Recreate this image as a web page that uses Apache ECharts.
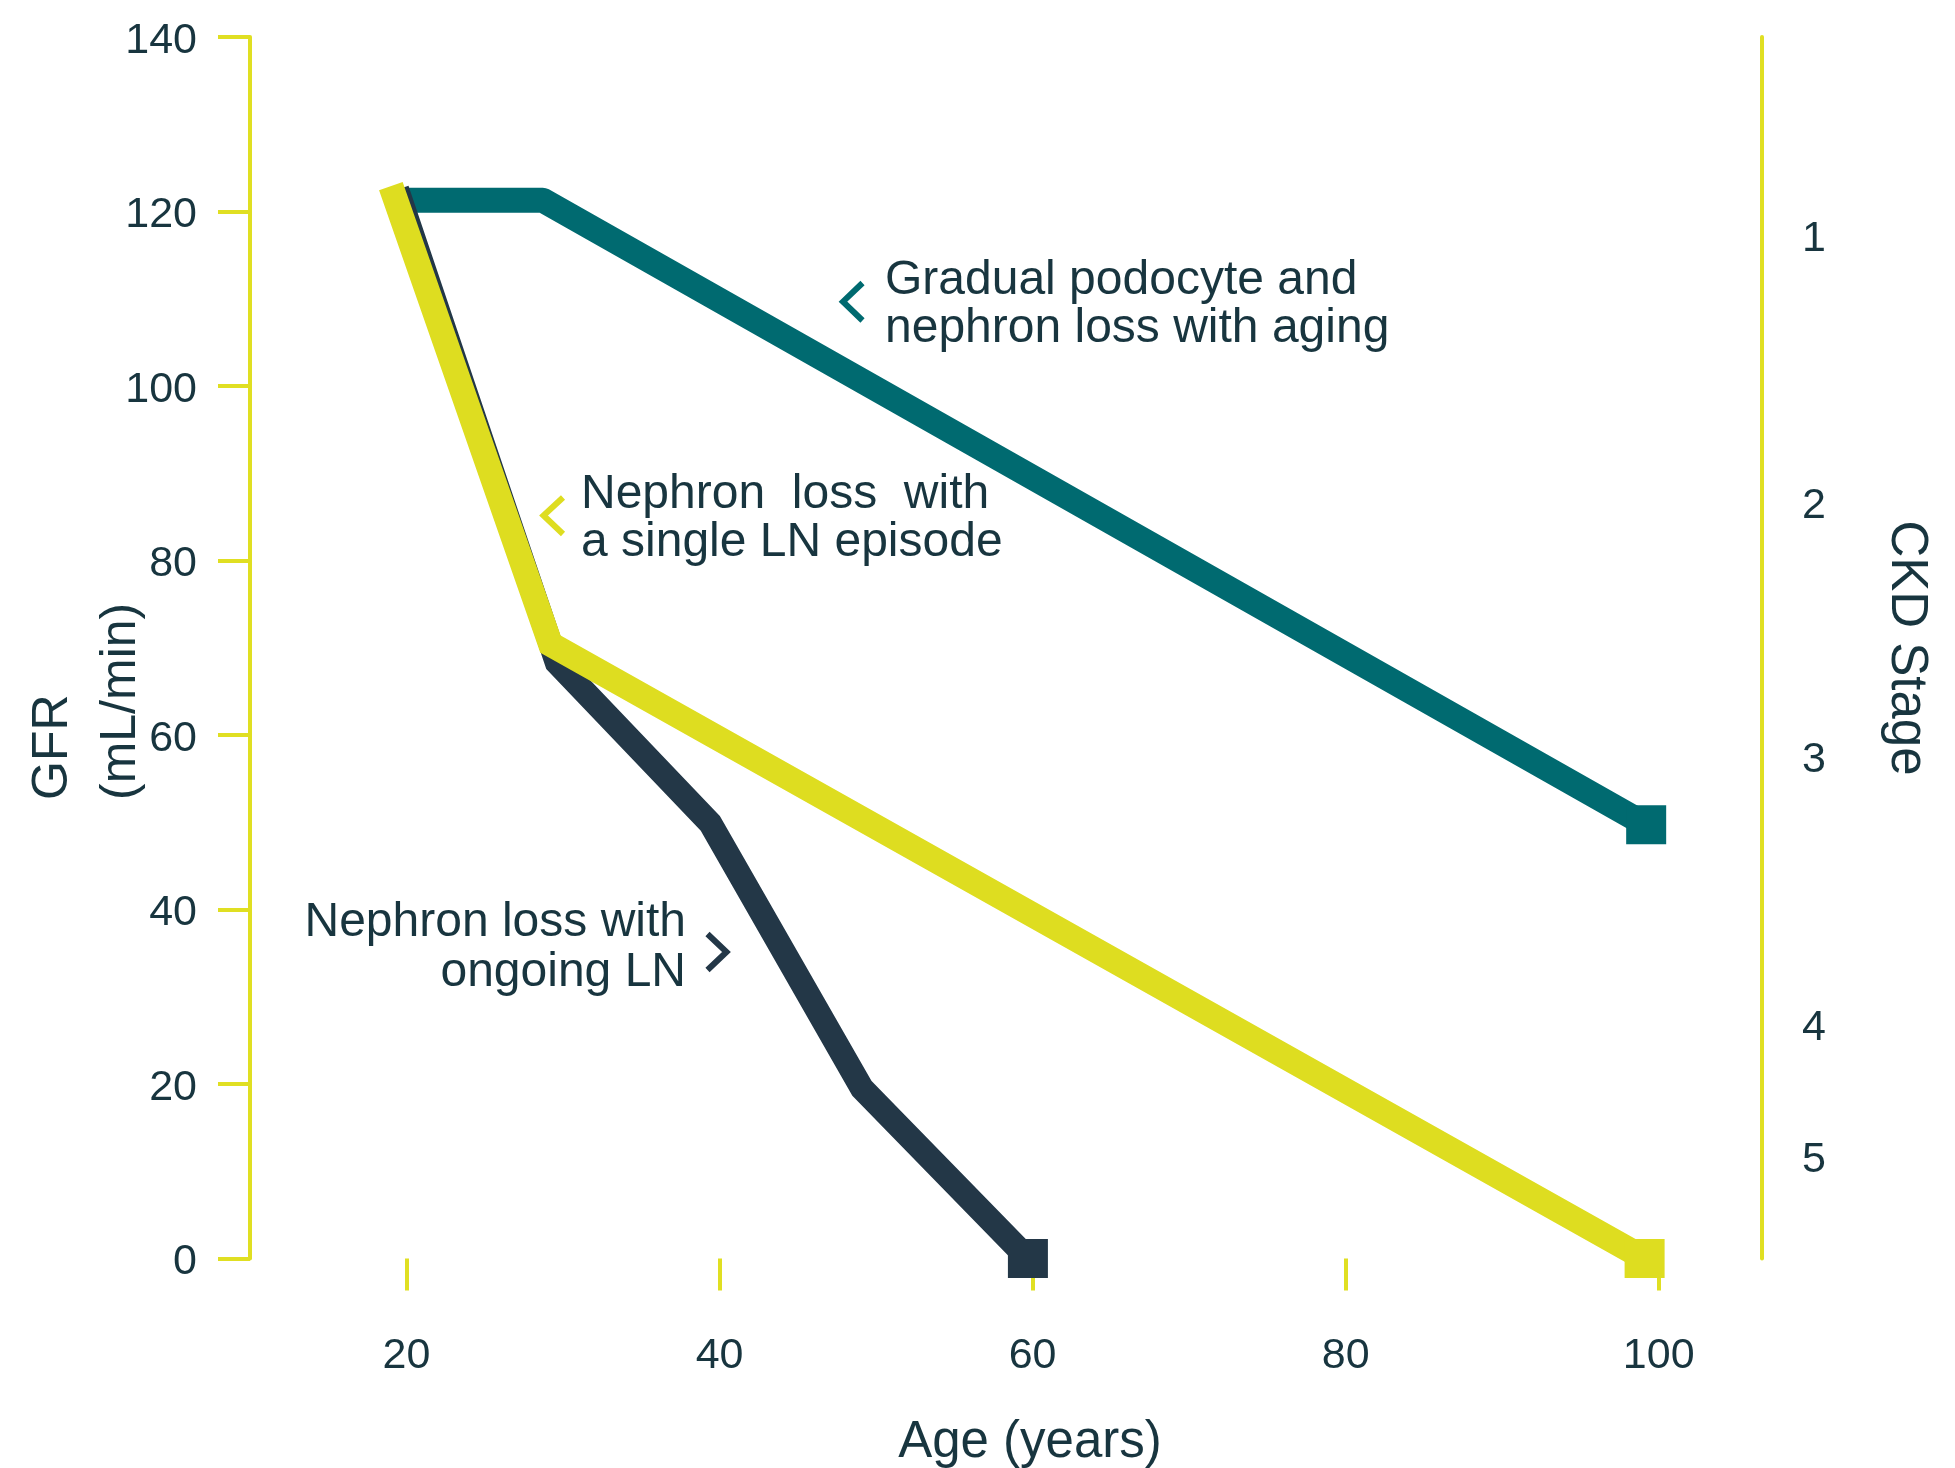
<!DOCTYPE html>
<html>
<head>
<meta charset="utf-8">
<script src="https://cdn.jsdelivr.net/npm/echarts@6/dist/echarts.min.js"></script>
<style>
  html, body { margin: 0; padding: 0; background: #ffffff; }
  #chart { width: 1955px; height: 1468px; }
</style>
</head>
<body>
<div id="chart"></div>
<script>
// Age (years) on x, GFR (mL/min) on y
const ageTicks = [20, 40, 60, 80, 100];

// Gradual podocyte and nephron loss with aging
const agingAge = [20, 28.7, 99.2];
const agingGfr = [121.3, 121.3, 49.7];

// Nephron loss with a single LN episode
const singleAge = [19.0, 29.2, 99.1];
const singleGfr = [122.9, 70.4, 0];

// Nephron loss with ongoing LN
const ongoingAge = [19.4, 29.6, 39.4, 49.1, 59.7];
const ongoingGfr = [122.5, 68.3, 49.9, 19.5, 0];

// CKD stage labels on the right-hand axis, placed at GFR levels
const stageLabels = ['1', '2', '3', '4', '5'];
const stageGfr = [116.8, 86.2, 57.1, 26.4, 11.3];

const TEAL = '#006a70';
const YELLOW = '#dedd20';
const NAVY = '#233747';
const AXIS_YELLOW = '#e0df22';
const TEXT = '#18353f';
const FONT = '"Liberation Sans", Arial, sans-serif';

// Line points; the last point of each path carries the square end cap
function toPoints(xs, ys) {
  return xs.map((x, i) => ({
    value: [x, ys[i]],
    symbol: i === xs.length - 1 ? 'rect' : 'none'
  }));
}

function lineSeries(name, xs, ys, color, width, join) {
  return {
    name: name,
    type: 'line',
    data: toPoints(xs, ys),
    showSymbol: true,
    symbol: 'none',
    symbolSize: [40, 39],
    itemStyle: { color: color, borderWidth: 0 },
    lineStyle: { color: color, width: width, cap: 'butt', join: join },
    silent: true,
    emphasis: { disabled: true },
    animation: false
  };
}

function chevron(points, color) {
  return {
    type: 'polyline',
    shape: { points: points },
    style: { stroke: color, lineWidth: 6, fill: null, lineJoin: 'miter', lineCap: 'butt' },
    silent: true
  };
}

function label(text, x, y, size, align, rotation, lineHeight) {
  return {
    type: 'text',
    x: x,
    y: y,
    rotation: rotation || 0,
    style: {
      text: text,
      fill: TEXT,
      font: size + 'px ' + FONT,
      align: align,
      verticalAlign: 'middle',
      lineHeight: lineHeight || size
    },
    silent: true
  };
}

const chart = echarts.init(document.getElementById('chart'), null, { renderer: 'canvas' });

chart.setOption({
  backgroundColor: '#ffffff',
  animation: false,
  grid: {
    left: 250, right: 193, top: 37, bottom: 209.5,
    containLabel: false,
    outerBoundsMode: 'none'
  },
  xAxis: {
    type: 'value',
    min: 10,
    max: 106.6,
    offset: 6.5,
    axisLine: { show: false },
    axisTick: {
      show: true,
      customValues: ageTicks,
      length: 32,
      lineStyle: { color: AXIS_YELLOW, width: 4 }
    },
    axisLabel: {
      customValues: ageTicks,
      margin: 70,
      color: TEXT,
      fontSize: 43,
      fontFamily: FONT
    },
    splitLine: { show: false }
  },
  yAxis: [
    {
      type: 'value',
      position: 'left',
      min: 0,
      max: 140,
      interval: 20,
      axisLine: { show: true, lineStyle: { color: AXIS_YELLOW, width: 4 } },
      axisTick: { show: true, length: 32, lineStyle: { color: AXIS_YELLOW, width: 4 } },
      axisLabel: {
        margin: 53,
        color: TEXT,
        fontSize: 43,
        fontFamily: FONT,
        formatter: (v) => '{n|' + v + '}',
        rich: { n: { fontSize: 43, fontFamily: FONT, color: TEXT, padding: [8, 0, 0, 0] } }
      },
      splitLine: { show: false }
    },
    {
      type: 'value',
      position: 'right',
      min: 0,
      max: 140,
      axisLine: { show: true, lineStyle: { color: AXIS_YELLOW, width: 4 } },
      axisTick: { show: false },
      axisLabel: {
        customValues: stageGfr,
        formatter: (v) => stageLabels[stageGfr.indexOf(v)],
        margin: 40,
        align: 'left',
        color: TEXT,
        fontSize: 43,
        fontFamily: FONT
      },
      splitLine: { show: false }
    }
  ],
  series: [
    lineSeries('Gradual podocyte and nephron loss with aging', agingAge, agingGfr, TEAL, 25, 'round'),
    lineSeries('Nephron loss with ongoing LN', ongoingAge, ongoingGfr, NAVY, 24, 'miter'),
    lineSeries('Nephron loss with a single LN episode', singleAge, singleGfr, YELLOW, 25, 'miter')
  ],
  graphic: [
    // axis titles
    label('GFR', 53, 800, 50, 'left', Math.PI / 2),
    label('(mL/min)', 121, 800, 50, 'left', Math.PI / 2),
    label('CKD Stage', 1906, 648, 51, 'center', -Math.PI / 2),
    label('Age (years)', 1030, 1443, 51, 'center'),

    // series call-outs
    chevron([[862.5, 283], [843, 301.7], [862.5, 320.5]], TEAL),
    label('Gradual podocyte and\nnephron loss with aging', 885, 304.5, 48, 'left', 0, 48),

    chevron([[563, 497.5], [543.5, 515.5], [563, 534]], YELLOW),
    label('Nephron  loss  with\na single LN episode', 581, 519, 48, 'left', 0, 48),

    chevron([[707.5, 934], [726.5, 952], [707.5, 970]], NAVY),
    label('Nephron loss with\nongoing LN', 686, 948, 48, 'right', 0, 50)
  ]
});
</script>
</body>
</html>
